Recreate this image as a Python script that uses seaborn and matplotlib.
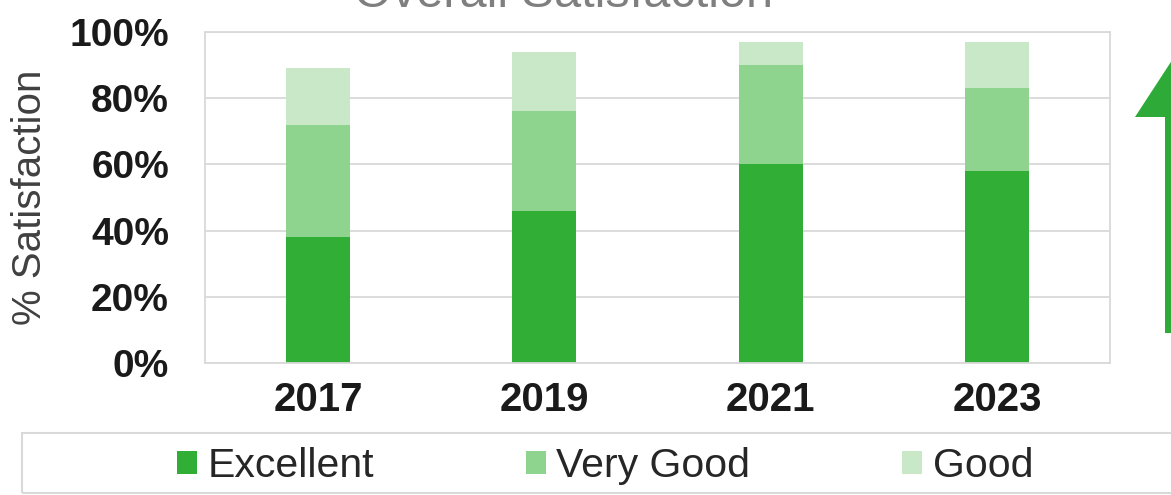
import matplotlib
matplotlib.use("Agg")
import matplotlib.pyplot as plt
import seaborn as sns
import pandas as pd
from matplotlib.patches import Patch, Rectangle, Polygon

# ---- data ----
years = ["2017", "2019", "2021", "2023"]
excellent = [38, 46, 60, 58]
very_good = [34, 30, 30, 25]
good = [17, 18, 7, 14]
series_names = ["Excellent", "Very Good", "Good"]
colors = ["#31ae35", "#8ed48f", "#c8e8c8"]
yticks = [0, 20, 40, 60, 80, 100]
ytick_labels = [f"{v}%" for v in yticks]
title = "Overall Satisfaction"
ylabel = "% Satisfaction"

sns.set_theme(style="white")
plt.rcParams["font.family"] = ["Liberation Sans", "DejaVu Sans"]

W, H = 1171, 495
fig = plt.figure(figsize=(W / 100, H / 100), dpi=100)
ax = fig.add_axes([205 / W, 1 - 363.3 / H, 905 / W, 331.6 / H])

df = pd.DataFrame({"year": years, "Excellent": excellent,
                   "Very Good": very_good, "Good": good})
df["top_exc"] = df["Excellent"]
df["top_vg"] = df["Excellent"] + df["Very Good"]
df["top_good"] = df["top_vg"] + df["Good"]

for col, c in zip(["top_good", "top_vg", "top_exc"], colors[::-1]):
    sns.barplot(data=df, x="year", y=col, order=years, color=c, width=0.283,
                saturation=1, edgecolor="none", linewidth=0, ax=ax, errorbar=None)

ax.set_ylim(0, 100)
ax.set_xlim(-0.5, 3.5)
ax.set_yticks(yticks, labels=ytick_labels, fontweight="bold", fontsize=28, color="#1a1a1a")
ax.set_xticks(range(len(years)), labels=years, fontweight="bold", fontsize=29, color="#1a1a1a")
ax.tick_params(axis="y", length=0, pad=26)
ax.tick_params(axis="x", length=0, pad=13)
ax.set_xlabel("")
ax.set_ylabel(ylabel, fontsize=29, color="#404040")
ax.yaxis.set_label_coords(-0.172, 0.5)
ax.yaxis.grid(True, color="#d9d9d9", linewidth=1.3)
ax.set_axisbelow(True)
for s in ax.spines.values():
    s.set_visible(True)
    s.set_color("#d9d9d9")
    s.set_linewidth(1.3)

# legend
handles = [Patch(facecolor=c, edgecolor="none") for c in colors]
fig.legend(handles, series_names, loc="center", bbox_to_anchor=(605 / W, 1 - 466 / H),
           ncol=3, frameon=False, fontsize=29.5, handlelength=0.5, handleheight=0.5,
           handletextpad=0.25, columnspacing=3.7, borderpad=0, labelcolor="#262626")
fig.patches.append(Rectangle((22 / W, 1 - 493 / H), (1200 - 22) / W, 60 / H,
                             transform=fig.transFigure, fill=False,
                             edgecolor="#d9d9d9", linewidth=1.5))

# decorative upward arrow at right
pts = [(1195, 25), (1255, 117), (1225, 117), (1225, 333), (1165, 333), (1165, 117), (1135, 117)]
fig.patches.append(Polygon([(x / W, 1 - y / H) for x, y in pts], closed=True,
                           transform=fig.transFigure, facecolor="#2eaa38", edgecolor="none"))

# title (cut off at the top edge as in the reference)
fig.text(563 / W, 1 - 7 / H, title, ha="center", va="baseline", fontsize=35, color="#7f7f7f")

fig.savefig("out.png", dpi=100)
